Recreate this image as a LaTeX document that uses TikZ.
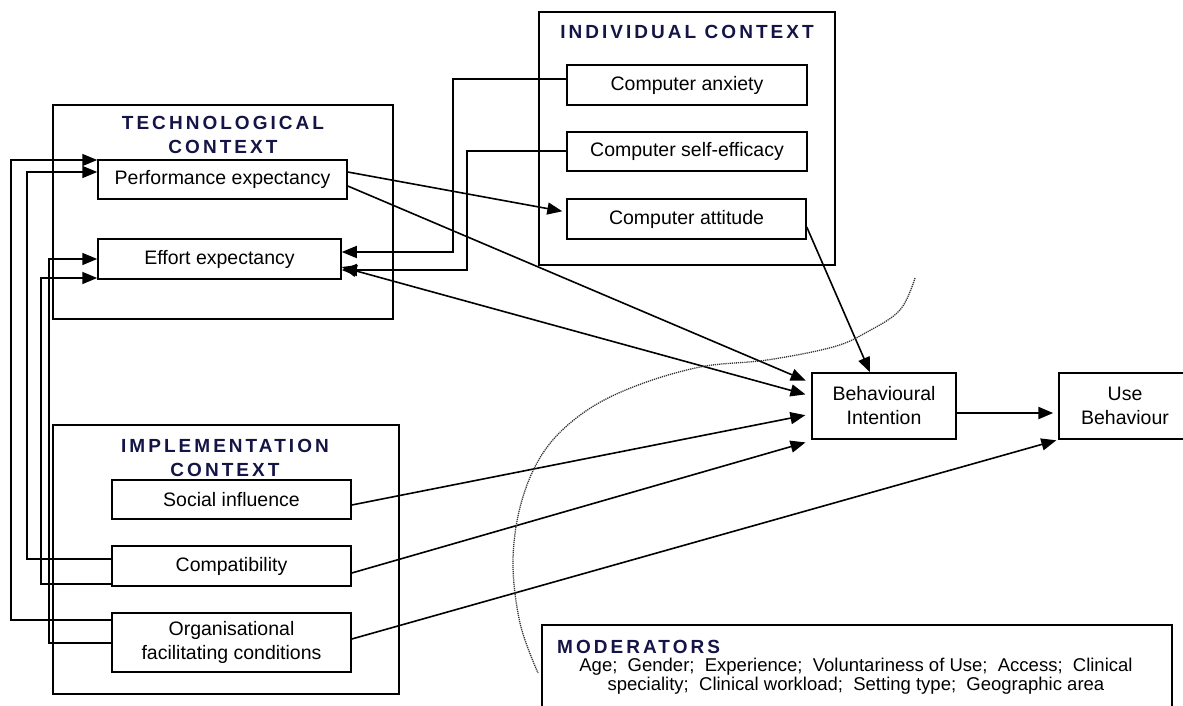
\documentclass[tikz,border=0pt]{standalone}
\usepackage{fontspec}
\setmainfont{Liberation Sans}
\usetikzlibrary{arrows.meta}
\definecolor{titlenavy}{RGB}{20,20,70}
\tikzset{
  box/.style = {draw, line width=1.5pt, inner sep=0pt, align=center, font=\fontsize{19.5}{24}\selectfont},
  ctxbox/.style = {draw, line width=1.5pt, inner sep=0pt},
  ctxtitle/.style = {align=center, inner sep=0pt, text=titlenavy, font=\bfseries\fontsize{19}{24}\selectfont\addfontfeature{LetterSpace=16}},
  arr/.style = {line width=1.6pt, -{Triangle[length=15pt,width=12pt]}},
  arrboth/.style = {line width=1.6pt, {Triangle[length=15pt,width=12pt]}-{Triangle[length=15pt,width=12pt]}},
}

\begin{document}
\begin{tikzpicture}[x=1pt, y=-1pt]
\useasboundingbox (0,0) rectangle (1183,705);
% context frames
\node[ctxbox, minimum width=340pt, minimum height=214pt] (tech) at (223,212) {};
\node[ctxtitle] (techT) at (223,135) {TECHNOLOGICAL\\CONTEXT};
\node[ctxbox, minimum width=296pt, minimum height=253pt] (indiv) at (687,138.5) {};
\node[ctxtitle] (indivT) at (687,31.5) {INDIVIDUAL CONTEXT};
\node[ctxbox, minimum width=346pt, minimum height=269pt] (impl) at (226,559.5) {};
\node[ctxtitle] (implT) at (225,457.5) {IMPLEMENTATION\\CONTEXT};
\node[ctxbox, minimum width=630pt, minimum height=110pt] (mod) at (857,680) {};
\node[ctxtitle, anchor=base west] (modT) at (557,653) {MODERATORS};
\node[align=center, inner sep=0pt, anchor=base, font=\fontsize{18.5}{18.5}\selectfont] (modtext) at (856,690)
  {Age;\ \ Gender;\ \ Experience;\ \ Voluntariness of Use;\ \ Access;\ \ Clinical\\
   speciality;\ \ Clinical workload;\ \ Setting type;\ \ Geographic area};
% constructs
\node[box, minimum width=249pt, minimum height=39pt] (perf) at (222.5,179.5) {Performance expectancy};
\node[box, minimum width=243pt, minimum height=40pt] (effort) at (219.5,259) {Effort expectancy};
\node[box, minimum width=240pt, minimum height=40pt] (anx) at (687,85) {Computer anxiety};
\node[box, minimum width=240pt, minimum height=39pt] (selfeff) at (687,151.5) {Computer self-efficacy};
\node[box, minimum width=239pt, minimum height=40pt] (att) at (686.5,219) {Computer attitude};
\node[box, minimum width=239pt, minimum height=39pt] (social) at (231.5,499.5) {Social influence};
\node[box, minimum width=239pt, minimum height=40pt] (compat) at (231.5,566) {Compatibility};
\node[box, minimum width=239pt, minimum height=59pt] (org) at (231.5,642.5) {Organisational\\facilitating conditions};
\node[box, minimum width=144pt, minimum height=66pt] (bi) at (884,406) {Behavioural\\Intention};
\node[box, minimum width=132pt, minimum height=66pt] (use) at (1125,406) {Use\\Behaviour};
% feedback lines on the left
\draw[arr] ([yshift=22.5pt]org.west) -- ++(-100,0) |- ([yshift=19.5pt]perf.west);
\draw[arr] ([yshift=7pt]compat.west) -- ++(-84,0) |- ([yshift=7.5pt]perf.west);
\draw[arr] ([yshift=-18pt]compat.west) -- ++(-70,0) |- ([yshift=-19pt]effort.west);
\draw[arr] ([yshift=-0.5pt]org.west) -- ++(-62,0) |- (effort.west);
% individual context
\draw[arr] ([yshift=6pt]anx.west) -- ++(-113,0) |- ([yshift=7pt]effort.east);
\draw[arr] ([yshift=0.5pt]selfeff.west) -- ++(-99,0) |- ([yshift=-11pt]effort.east);
\draw[arr, shorten >=4pt] ([yshift=7.5pt]perf.east) -- ([yshift=7pt]att.west);
\draw[arr] ([yshift=-8pt]att.east) -- ([xshift=-14pt]bi.north);
% into behavioural intention
\draw[arr, shorten >=6pt] ([yshift=-6.5pt]perf.east) -- ([yshift=23pt]bi.west);
\draw[arrboth, shorten >=6pt] ([yshift=-8pt]effort.east) -- ([yshift=10pt]bi.west);
\draw[arr, shorten >=6pt] ([yshift=-5.5pt]social.east) -- ([yshift=-8pt]bi.west);
\draw[arr, shorten >=6pt] ([yshift=-7pt]compat.east) -- ([yshift=-1pt]bi.south west);
\draw[arr, shorten >=2pt] ([yshift=3.5pt]org.east) -- (use.south west);
\draw[arr, line width=2.4pt, shorten >=5pt] ([yshift=-7pt]bi.east) -- ([yshift=-7pt]use.west);
% moderating boundary
\draw[black!80, line width=1.3pt, dash pattern=on 1.2pt off 0.9pt] plot[smooth, tension=0.6] coordinates
  {(915,278) (900,310) (867,332) (833,347) (767,360) (700,367) (633,387) (583,413) (545,450) (522,500) (513,560) (520,623) (538,673)};
\end{tikzpicture}
\end{document}
